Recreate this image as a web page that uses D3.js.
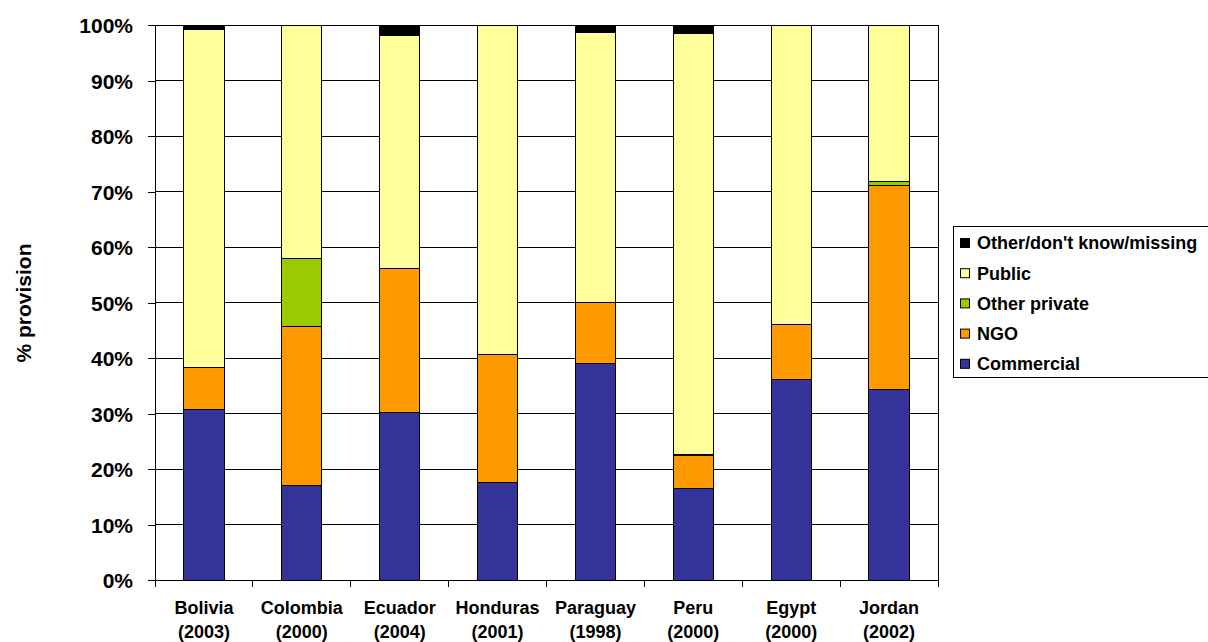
<!DOCTYPE html>
<html><head><meta charset="utf-8">
<script src="https://cdn.jsdelivr.net/npm/d3@7"></script>
<style>body{margin:0;background:#fff}svg{display:block}text{font-family:"Liberation Sans",Arial,sans-serif;font-weight:bold;fill:#000}</style>
</head><body>
<svg id="c" width="1208" height="642"></svg>
<script>
const countries = ["Bolivia","Colombia","Ecuador","Honduras","Paraguay","Peru","Egypt","Jordan"];
const years = ["(2003)","(2000)","(2004)","(2001)","(1998)","(2000)","(2000)","(2002)"];
const seriesNames = ["Commercial","NGO","Other private","Public","Other/don't know/missing"];
const commercial   = [30.8, 17.0, 30.1, 17.6, 39.0, 16.4, 36.2, 34.4];
const ngo          = [ 7.5, 28.6, 26.1, 23.0, 11.0,  6.0,  9.9, 36.6];
const otherPrivate = [ 0.0, 12.3,  0.0,  0.0,  0.0,  0.3,  0.0,  0.8];
const publicProv   = [60.9, 42.1, 41.9, 59.4, 48.6, 75.7, 53.9, 28.2];
const otherMissing = [ 0.8,  0.0,  1.9,  0.0,  1.4,  1.6,  0.0,  0.0];
const yTicks = [0,10,20,30,40,50,60,70,80,90,100];
const colors = ["#333399","#FF9900","#99CC00","#FFFF99","#000000"];

const svg = d3.select("#c");
const L = 155, R = 938, T = 25, B = 580;
const x = d3.scaleBand().domain(countries).range([L, R]).paddingInner(0.59).paddingOuter(0.295);
const y = d3.scaleLinear().domain([0, 100]).range([B, T]);

const rows = countries.map((c, i) => ({
  country: c,
  "Commercial": commercial[i], "NGO": ngo[i], "Other private": otherPrivate[i],
  "Public": publicProv[i], "Other/don't know/missing": otherMissing[i]
}));
const stack = d3.stack().keys(seriesNames)(rows);

// gridlines
svg.append("g").selectAll("line").data(yTicks.filter(d => d > 0)).join("line")
  .attr("x1", L).attr("x2", R).attr("y1", d => y(d)).attr("y2", d => y(d))
  .attr("stroke", "#000").attr("stroke-width", 1).attr("shape-rendering", "crispEdges");
// plot border right
svg.append("line").attr("x1", R).attr("x2", R).attr("y1", T).attr("y2", B)
  .attr("stroke", "#000").attr("shape-rendering", "crispEdges");

// bars
svg.append("g").selectAll("g").data(stack).join("g")
  .attr("fill", (d, i) => colors[i])
  .selectAll("rect").data(d => d.filter(p => p[1] - p[0] > 0)).join("rect")
  .attr("x", d => x(d.data.country)).attr("width", x.bandwidth())
  .attr("y", d => y(d[1])).attr("height", d => y(d[0]) - y(d[1]))
  .attr("stroke", "#000").attr("stroke-width", 1).attr("shape-rendering", "crispEdges");

// y axis
const yAxis = d3.axisLeft(y).tickValues(yTicks).tickFormat(d => d + "%").tickSize(7).tickPadding(15);
const gy = svg.append("g").attr("transform", `translate(${L},0)`).call(yAxis);
gy.selectAll("path,line").attr("stroke", "#000").attr("shape-rendering", "crispEdges");
gy.selectAll("text").style("font-size", "21px").attr("dy", "0.36em");

// x axis
const gx = svg.append("g").attr("transform", `translate(0,${B})`);
gx.append("line").attr("x1", L).attr("x2", R).attr("stroke", "#000").attr("shape-rendering", "crispEdges");
const boundaries = countries.map(c => x(c) - x.step() * 0.295).concat([R]);
gx.selectAll(".tk").data(boundaries).join("line").attr("class", "tk")
  .attr("x1", d => d).attr("x2", d => d).attr("y1", 0).attr("y2", 7)
  .attr("stroke", "#000").attr("shape-rendering", "crispEdges");
const lab = gx.selectAll(".lab").data(countries).join("text").attr("class", "lab")
  .attr("text-anchor", "middle").style("font-size", "18px")
  .attr("transform", d => `translate(${x(d) + x.bandwidth() / 2},0)`);
lab.append("tspan").attr("x", 0).attr("y", 34).text(d => d);
lab.append("tspan").attr("x", 0).attr("y", 58).text((d, i) => years[i]);

// y title
svg.append("text").attr("transform", "translate(31,303) rotate(-90)")
  .attr("text-anchor", "middle").style("font-size", "21px").text("% provision");

// legend
const lg = svg.append("g");
lg.append("rect").attr("x", 953.5).attr("y", 226.5).attr("width", 270).attr("height", 151)
  .attr("fill", "#fff").attr("stroke", "#000").attr("stroke-width", 1);
const legOrder = seriesNames.slice().reverse();
const li = lg.selectAll(".li").data(legOrder).join("g").attr("class", "li")
  .attr("transform", (d, i) => `translate(960,${243 + i * 30.2})`);
li.append("rect").attr("x", 0.5).attr("y", -4.5).attr("width", 9).attr("height", 9)
  .attr("fill", d => colors[seriesNames.indexOf(d)]).attr("stroke", "#000");
li.append("text").attr("x", 17).attr("dy", "0.36em").style("font-size", "18px").text(d => d);
</script>
</body></html>
